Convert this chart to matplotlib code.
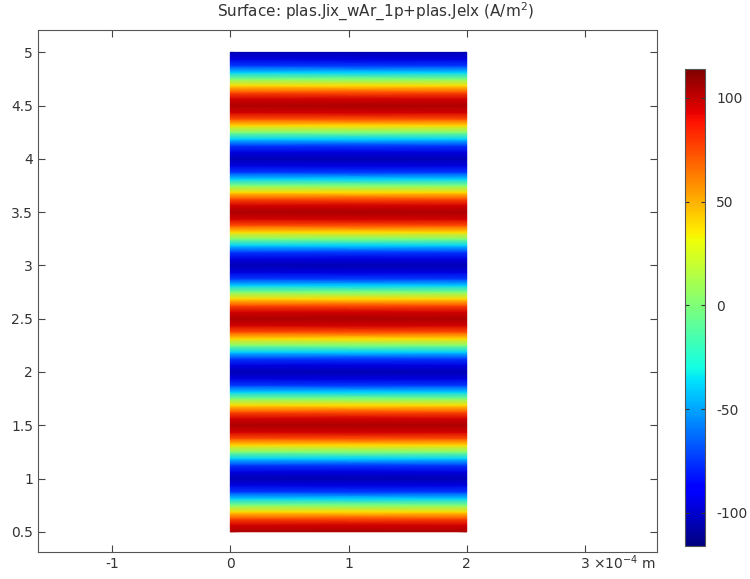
import numpy as np
import matplotlib
matplotlib.use("Agg")
import matplotlib.pyplot as plt

# Surface values (A/m^2) read along y (same for all x), y from 0.5 to 5.0 in steps of 0.0625
y_start, y_stop = 0.5, 5.0
x_edges = [0.0, 2e-4]
current_values = [
    105, 97, 74, 40, 0, -40, -74, -97,
    -105, -97, -74, -40, 0, 40, 74, 97,
    105, 97, 74, 40, 0, -40, -74, -97,
    -105, -97, -74, -40, 0, 40, 74, 97,
    105, 97, 74, 40, 0, -40, -74, -97,
    -105, -97, -74, -40, 0, 40, 74, 97,
    105, 97, 74, 40, 0, -40, -74, -97,
    -105, -97, -74, -40, 0, 40, 74, 97,
    105, 97, 74, 40, 0, -40, -74, -97,
    -105,
]
vmin, vmax = -116, 114

x_ticks = [-1e-4, 0, 1e-4, 2e-4, 3e-4]
x_labels = ["-1", "0", "1", "2", "3"]
x_unit = "\u00d710$^{-4}$ m"
y_ticks = [0.5, 1, 1.5, 2, 2.5, 3, 3.5, 4, 4.5, 5]
y_labels = ["0.5", "1", "1.5", "2", "2.5", "3", "3.5", "4", "4.5", "5"]
cbar_ticks = [-100, -50, 0, 50, 100]
title = "Surface: plas.Jix_wAr_1p+plas.Jelx (A/m$^2$)"

text_color = "#333333"
plt.rcParams["font.family"] = ["DejaVu Sans"]
plt.rcParams["font.size"] = 10

fig = plt.figure(figsize=(7.5, 5.79), dpi=100)
ax = fig.add_axes([0.0507, 0.0466, 0.8253, 0.9016])

vals = np.array(current_values, dtype=float)
ys = np.linspace(y_start, y_stop, len(vals))
X, Y = np.meshgrid(np.array(x_edges), ys)
Z = np.repeat(vals[:, None], len(x_edges), axis=1)
mesh = ax.pcolormesh(X, Y, Z, cmap="jet", vmin=vmin, vmax=vmax, shading="gouraud")

ax.set_xlim(-1.627e-4, 3.61e-4)
ax.set_ylim(0.31, 5.21)
ax.set_xticks(x_ticks)
ax.set_xticklabels(x_labels)
ax.set_yticks(y_ticks)
ax.set_yticklabels(y_labels)
ax.tick_params(direction="in", top=True, right=True, length=5, width=0.8,
               colors="#444444", labelcolor=text_color, labelsize=10)
for s in ax.spines.values():
    s.set_color("#555555")
    s.set_linewidth(0.8)
fig.text(0.5, 0.979, title, ha="center", va="center", color=text_color, fontsize=11)
ax.annotate(x_unit, xy=(x_ticks[-1], 0), xycoords=("data", "axes fraction"),
            xytext=(6, -1), textcoords="offset points", ha="left", va="top",
            color=text_color, fontsize=10)

cax = fig.add_axes([0.913, 0.057, 0.027, 0.824])
cb = fig.colorbar(mesh, cax=cax, ticks=cbar_ticks)
cb.ax.set_yticklabels([str(t) for t in cbar_ticks])
cb.ax.tick_params(direction="in", left=True, right=True, length=3, width=0.8,
                  colors="#333333", labelcolor=text_color, labelsize=10, pad=8)
cb.outline.set_edgecolor("#555555")
cb.outline.set_linewidth(0.8)

fig.savefig("out.png", dpi=100)
